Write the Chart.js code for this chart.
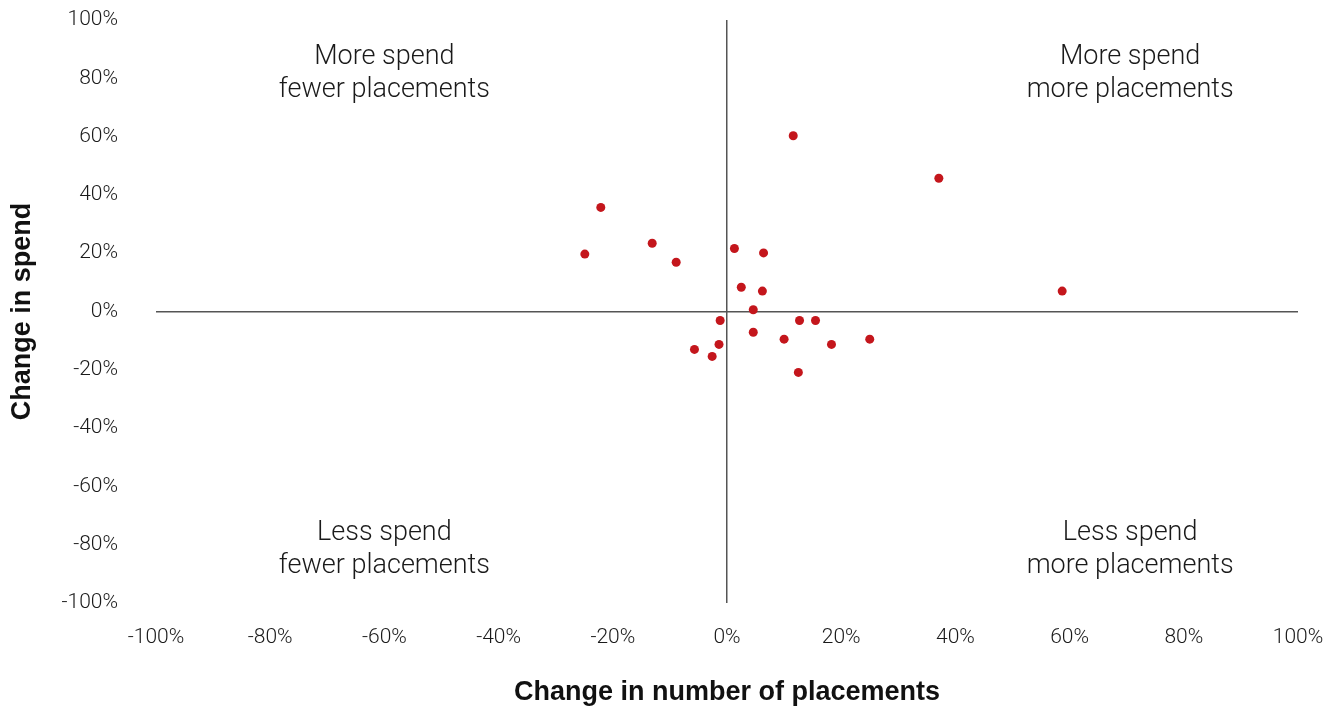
<!DOCTYPE html>
<html>
<head>
<meta charset="utf-8">
<script src="https://cdn.jsdelivr.net/npm/chart.js@4/dist/chart.umd.min.js"></script>
<style>
  html, body { margin: 0; padding: 0; background: #fff; }
  #wrap { width: 1339px; height: 709px; position: relative; }
</style>
</head>
<body>
<div id="wrap"><canvas id="chart"></canvas></div>
<script>
// change in number of placements (%) and change in spend (%)
const placementChange = [11.6, 37.1, -22.1, -13.1, -24.9, -8.9, 1.3, 6.4, 2.5, 6.2, 4.6, -1.2, 12.7, 15.5, 4.6, 10.0, 25.0, -1.4, 18.3, -5.7, -2.6, 12.5, 58.7];
const spendChange     = [60.3, 45.7, 35.7, 23.4, 19.7, 16.9, 21.6, 20.1, 8.3, 7.0, 0.6, -3.1, -3.1, -3.1, -7.1, -9.5, -9.5, -11.3, -11.3, -13.0, -15.4, -20.9, 7.0];

const axisMin = -100;
const axisMax = 100;
const tickStep = 20;

// quadrant captions, anchored in data units
const quadrantText = [
  ['More spend', 'fewer placements'],
  ['More spend', 'more placements'],
  ['Less spend', 'fewer placements'],
  ['Less spend', 'more placements']
];
const quadrantX = [-60, 70.6, -60, 70.6];
const quadrantY = [81.5, 81.5, -81.6, -81.6];

const points = placementChange.map((x, i) => ({ x: x, y: spendChange[i] }));

const tickFont = { family: 'Roboto, "Liberation Sans", sans-serif', size: 21, weight: '300' };
const titleFont = { family: '"Liberation Sans", Arial, sans-serif', size: 27, weight: 'bold' };

const quadrantPlugin = {
  id: 'quadrants',
  afterDatasetsDraw(chart) {
    const ctx = chart.ctx;
    const xs = chart.scales.x, ys = chart.scales.y;
    ctx.save();
    ctx.font = '300 27px Roboto, "Liberation Sans", sans-serif';
    ctx.fillStyle = '#1a1a1a';
    ctx.textAlign = 'center';
    ctx.textBaseline = 'middle';
    quadrantText.forEach((lines, i) => {
      const px = xs.getPixelForValue(quadrantX[i]);
      const py = ys.getPixelForValue(quadrantY[i]);
      ctx.fillText(lines[0], px, py - 16.5);
      ctx.fillText(lines[1], px, py + 16.5);
    });
    ctx.restore();
  }
};

const zeroLine = (c) => (c.tick && c.tick.value === 0) ? '#555' : 'rgba(0,0,0,0)';

new Chart(document.getElementById('chart'), {
  type: 'scatter',
  data: {
    datasets: [{
      data: points,
      backgroundColor: '#c4161c',
      borderWidth: 0,
      pointRadius: 4.5,
      pointHoverRadius: 4.5
    }]
  },
  options: {
    responsive: true,
    maintainAspectRatio: false,
    animation: false,
    events: [],
    layout: { padding: { top: 20, right: 41, left: 0, bottom: 0 } },
    plugins: { legend: { display: false }, tooltip: { enabled: false } },
    scales: {
      x: {
        type: 'linear',
        min: axisMin,
        max: axisMax,
        afterFit(scale) {
          scale.height = 106;
          scale.paddingLeft = 0;
          scale.paddingRight = 0;
        },
        border: { display: false },
        grid: { color: zeroLine, lineWidth: 1.5, drawTicks: false },
        ticks: {
          stepSize: tickStep,
          padding: 22,
          color: '#1a1a1a',
          font: tickFont,
          callback: (v) => v + '%'
        },
        title: {
          display: true,
          text: 'Change in number of placements',
          color: '#111',
          font: titleFont,
          padding: { top: 0, bottom: 0 }
        }
      },
      y: {
        type: 'linear',
        min: axisMin,
        max: axisMax,
        afterFit(scale) {
          scale.width = 156;
          scale.paddingTop = 0;
          scale.paddingBottom = 0;
        },
        border: { display: false },
        grid: { color: zeroLine, lineWidth: 1.5, drawTicks: false },
        ticks: {
          stepSize: tickStep,
          padding: 38,
          color: '#1a1a1a',
          font: tickFont,
          callback: (v) => v + '%'
        },
        title: {
          display: true,
          text: 'Change in spend',
          color: '#111',
          font: titleFont,
          padding: { top: 6, bottom: 0 }
        }
      }
    }
  },
  plugins: [quadrantPlugin]
});
</script>
</body>
</html>
